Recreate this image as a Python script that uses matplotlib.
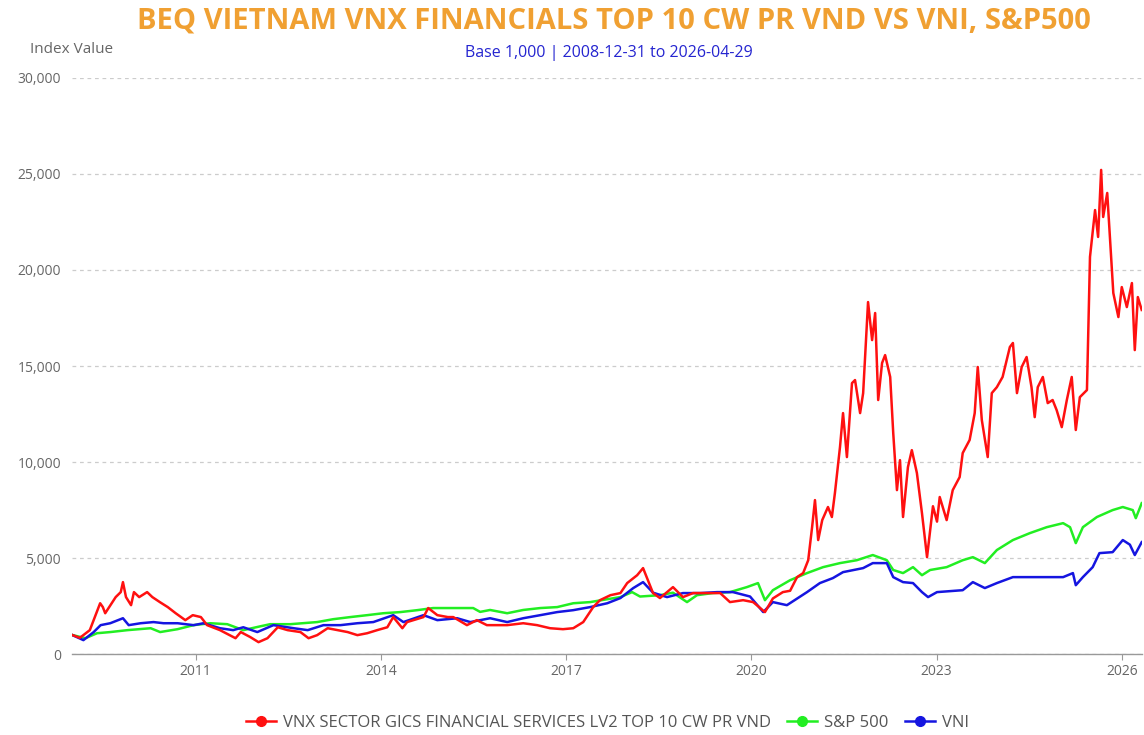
import matplotlib
matplotlib.use("Agg")
import matplotlib.pyplot as plt
from matplotlib.lines import Line2D
import pandas as pd

# ---------------- data ----------------
vnx_dates = ["2008-12-31","2009-02-15","2009-04-15","2009-06-15","2009-07-01","2009-07-15","2009-08-15",
    "2009-09-15","2009-10-15","2009-10-28","2009-11-15","2009-12-15","2010-01-01","2010-02-01","2010-03-20",
    "2010-04-20","2010-06-05","2010-07-20","2010-09-05","2010-11-01","2010-12-15","2011-02-01","2011-03-10",
    "2011-05-25","2011-08-25","2011-09-25","2011-11-20","2012-01-08","2012-03-01","2012-05-01","2012-06-28",
    "2012-09-12","2012-10-30","2012-12-20","2013-02-20","2013-04-20","2013-06-18","2013-08-15","2013-10-12",
    "2013-12-10","2014-02-08","2014-03-15","2014-05-08","2014-06-05","2014-07-12","2014-09-10","2014-10-08",
    "2014-12-01","2015-02-01","2015-03-05","2015-05-25","2015-07-23","2015-09-20","2016-01-18","2016-04-22",
    "2016-07-13","2016-09-28","2016-12-13","2017-02-12","2017-04-12","2017-06-10","2017-07-20","2017-09-20",
    "2017-11-18","2017-12-28","2018-02-25","2018-04-01","2018-05-30","2018-07-10","2018-09-25","2018-11-23",
    "2019-01-22","2019-03-05","2019-07-01","2019-08-28","2019-11-14","2020-01-12","2020-02-03","2020-03-22",
    "2020-05-08","2020-07-06","2020-08-18","2020-09-28","2020-11-03","2020-12-03","2020-12-26","2021-01-12",
    "2021-01-31","2021-02-24","2021-03-30","2021-04-22","2021-05-10","2021-06-09","2021-06-27","2021-07-20",
    "2021-08-19","2021-09-06","2021-10-06","2021-10-24","2021-11-22","2021-12-16","2022-01-03","2022-01-21",
    "2022-02-13","2022-03-03","2022-04-02","2022-04-20","2022-05-12","2022-05-30","2022-06-17","2022-07-16",
    "2022-08-08","2022-09-07","2022-10-07","2022-11-06","2022-12-11","2023-01-04","2023-01-20","2023-03-02",
    "2023-04-07","2023-05-18","2023-06-05","2023-07-16","2023-08-15","2023-09-02","2023-09-26","2023-10-31",
    "2023-11-24","2023-12-24","2024-01-27","2024-03-10","2024-03-28","2024-04-21","2024-05-19","2024-06-17",
    "2024-07-16","2024-08-04","2024-08-22","2024-09-21","2024-10-20","2024-11-18","2024-12-12","2025-01-11",
    "2025-02-10","2025-03-11","2025-04-04","2025-04-28","2025-06-09","2025-06-27","2025-07-27","2025-08-14",
    "2025-09-01","2025-09-13","2025-10-07","2025-10-25","2025-11-12","2025-12-12","2026-01-01","2026-01-31",
    "2026-03-02","2026-03-19","2026-04-06","2026-04-29"]
vnx_values = [1000,850,1250,2650,2450,2130,2550,
    2970,3230,3750,2970,2550,3230,2970,3230,
    2970,2700,2450,2130,1770,2030,1930,1510,
    1250,830,1150,890,625,830,1400,1250,
    1150,830,990,1350,1250,1150,990,1090,
    1250,1400,1930,1350,1670,1770,1930,2400,
    2030,1930,1930,1510,1770,1510,1510,1610,
    1510,1350,1300,1350,1670,2450,2810,3070,
    3180,3700,4110,4480,3180,2920,3490,2970,
    3180,3180,3180,2710,2810,2710,2550,2190,
    2900,3230,3300,4010,4220,4890,6610,8020,
    5940,6980,7660,7140,8390,10780,12550,10260,
    14110,14270,12550,13590,18330,16350,17760,13230,
    15160,15570,14430,11510,8540,10100,7140,9740,
    10620,9430,7340,5050,7700,6900,8180,6980,
    8540,9220,10470,11150,12550,14950,12190,10260,
    13590,13900,14430,15990,16200,13590,14950,15470,
    13900,12340,13900,14430,13070,13230,12700,11820,
    13230,14430,11670,13380,13750,20680,23120,21720,
    25210,22760,24010,21410,18800,17550,19110,18070,
    19320,15830,18590,17920]

spx_dates = ["2008-12-31","2009-03-20","2009-05-28","2009-08-14","2009-11-24","2010-04-10","2010-06-05",
    "2010-09-16","2010-12-20","2011-03-28","2011-07-07","2011-10-10","2012-01-19","2012-03-17","2012-07-14",
    "2012-12-20","2013-03-25","2013-07-04","2013-10-12","2014-01-15","2014-04-26","2014-08-04","2014-11-06",
    "2015-04-16","2015-07-01","2015-08-11","2015-10-09","2016-01-18","2016-04-22","2016-08-01","2016-11-09",
    "2017-02-12","2017-05-23","2017-09-01","2017-11-18","2018-01-26","2018-03-14","2018-07-10","2018-09-25",
    "2018-12-17","2019-02-14","2019-05-19","2019-08-28","2019-12-06","2020-02-10","2020-03-22","2020-05-08",
    "2020-08-18","2020-11-26","2021-03-01","2021-06-09","2021-09-16","2021-12-20","2022-03-13","2022-04-20",
    "2022-06-17","2022-08-15","2022-10-07","2022-11-24","2023-03-02","2023-06-05","2023-08-04","2023-10-14",
    "2023-12-24","2024-03-28","2024-07-06","2024-10-14","2025-01-19","2025-03-01","2025-04-04","2025-05-16",
    "2025-08-07","2025-11-08","2026-01-07","2026-03-07","2026-03-25","2026-04-29"]
spx_values = [1000,830,1090,1150,1250,1350,1150,
    1300,1510,1610,1560,1250,1450,1560,1560,
    1670,1820,1930,2030,2130,2190,2290,2400,
    2400,2400,2200,2300,2130,2300,2400,2450,
    2650,2710,2860,2970,3230,3000,3070,3200,
    2710,3070,3180,3230,3490,3700,2810,3330,
    3850,4220,4530,4740,4890,5160,4890,4380,
    4220,4530,4110,4380,4530,4890,5050,4740,
    5420,5940,6300,6610,6820,6610,5780,6610,
    7140,7500,7660,7500,7080,7860]

vni_dates = ["2008-12-31","2009-03-08","2009-05-08","2009-06-18","2009-08-14","2009-10-28","2009-12-01",
    "2010-02-10","2010-04-27","2010-06-25","2010-09-16","2010-12-20","2011-02-17","2011-05-25","2011-08-11",
    "2011-10-10","2012-01-01","2012-04-05","2012-08-03","2012-10-25","2013-01-26","2013-05-07","2013-08-15",
    "2013-11-17","2014-03-15","2014-05-14","2014-09-10","2014-12-01","2015-03-28","2015-06-14","2015-10-09",
    "2016-01-18","2016-04-22","2016-08-01","2016-11-09","2017-02-12","2017-05-23","2017-09-01","2017-11-18",
    "2018-02-02","2018-04-01","2018-05-30","2018-08-21","2018-11-23","2019-03-05","2019-06-13","2019-09-15",
    "2019-12-25","2020-03-12","2020-05-08","2020-07-30","2020-11-26","2021-02-10","2021-04-28","2021-06-27",
    "2021-10-24","2021-12-20","2022-03-13","2022-04-20","2022-06-17","2022-08-15","2022-10-07","2022-11-12",
    "2023-01-04","2023-06-05","2023-08-04","2023-10-14","2023-12-24","2024-03-28","2024-07-06","2024-10-14",
    "2025-01-19","2025-03-18","2025-04-04","2025-05-16","2025-07-13","2025-08-22","2025-11-08","2026-01-07",
    "2026-02-18","2026-03-19","2026-04-29"]
vni_values = [1000,730,1150,1510,1610,1870,1510,
    1610,1670,1610,1610,1510,1610,1350,1250,
    1400,1150,1510,1350,1250,1510,1510,1610,
    1670,2030,1670,2030,1770,1870,1670,1870,
    1670,1870,2030,2190,2290,2450,2650,2920,
    3440,3750,3200,2970,3180,3180,3230,3230,
    3000,2190,2710,2550,3230,3700,3960,4270,
    4480,4740,4740,4010,3750,3700,3230,2970,
    3230,3330,3750,3440,3700,4010,4010,4010,
    4010,4220,3590,4010,4530,5260,5310,5940,
    5700,5160,5830]

series_names = ["VNX SECTOR GICS FINANCIAL SERVICES LV2 TOP 10 CW PR VND", "S&P 500", "VNI"]
series_colors = ["#FF1010", "#22EE22", "#1515E0"]
y_ticks = [0, 5000, 10000, 15000, 20000, 25000, 30000]
x_tick_years = [2011, 2014, 2017, 2020, 2023, 2026]
title = "BEQ VIETNAM VNX FINANCIALS TOP 10 CW PR VND VS VNI, S&P500"
subtitle = "Base 1,000 | 2008-12-31 to 2026-04-29"

# ---------------- plot ----------------
plt.rcParams['font.family'] = ['Open Sans', 'DejaVu Sans']
fig = plt.figure(figsize=(11.44, 7.35), dpi=100)
ax = fig.add_axes([0.063, 0.110, 0.935, 0.784])

all_series = [(vnx_dates, vnx_values), (spx_dates, spx_values), (vni_dates, vni_values)]
for i in [1, 2, 0]:
    d, v = all_series[i]
    ax.plot(pd.to_datetime(d), v, color=series_colors[i], lw=1.8, zorder=3)

ax.set_xlim(pd.Timestamp("2008-12-31"), pd.Timestamp("2026-04-29"))
ax.set_ylim(0, 30000)
ax.set_yticks(y_ticks)
ax.set_yticklabels([f"{t:,}" for t in y_ticks])
ax.set_xticks([pd.Timestamp(f"{y}-01-01") for y in x_tick_years])
ax.set_xticklabels([str(y) for y in x_tick_years])

ax.grid(axis='y', color='#CCCCCC', linestyle=(0, (3, 3)), linewidth=0.9)
ax.set_axisbelow(True)
for s in ['top', 'right', 'left']:
    ax.spines[s].set_visible(False)
ax.spines['bottom'].set_color('#999999')
ax.spines['bottom'].set_linewidth(1.0)
ax.tick_params(axis='y', length=0, labelsize=10, colors='#666666', pad=8)
ax.tick_params(axis='x', length=4, color='#999999', labelsize=10, labelcolor='#666666', pad=3)

fig.text(0.537, 0.972, title, ha='center', va='center', fontsize=21, fontweight='bold', color='#F0A032')
fig.text(0.532, 0.928, subtitle, ha='center', va='center', fontsize=11.5, color='#2525D0')
fig.text(0.026, 0.932, "Index Value", ha='left', va='center', fontsize=11, color='#666666')

handles = [Line2D([0], [0], color=c, lw=1.8, marker='o', markersize=7) for c in series_colors]
fig.legend(handles, series_names, loc='center', bbox_to_anchor=(0.531, 0.017), ncol=3, frameon=False,
           fontsize=12, handlelength=1.8, columnspacing=1.0, handletextpad=0.4,
           labelcolor='#555555')

fig.savefig("out.png", dpi=100)
